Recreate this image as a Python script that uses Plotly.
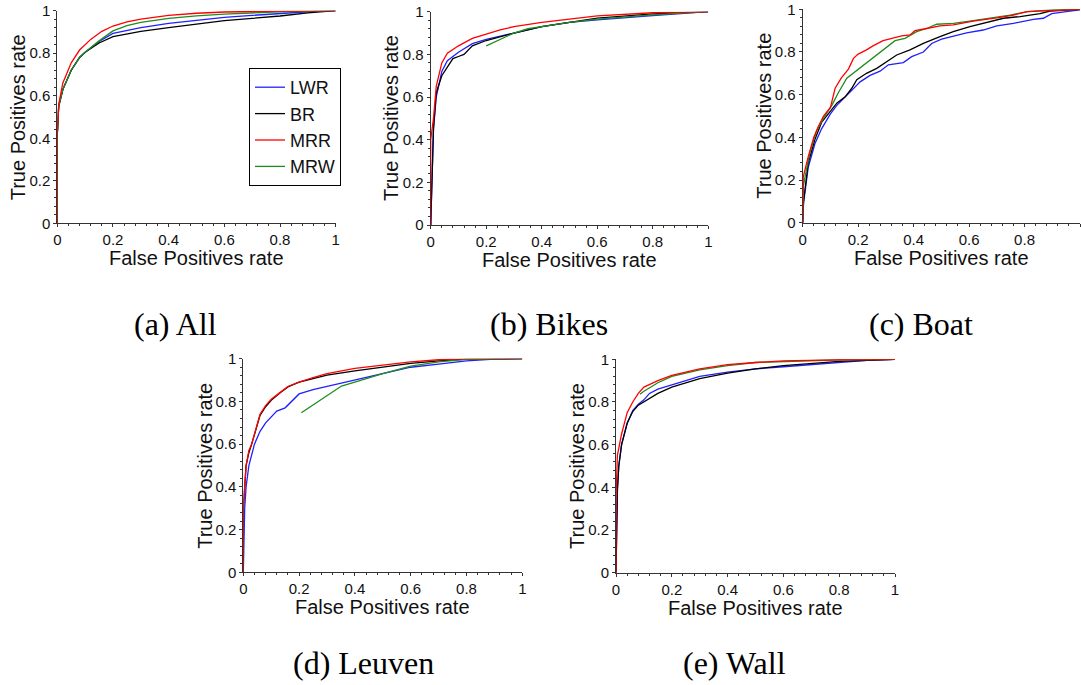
import plotly.graph_objects as go

# ---------------- data (FPR / TPR) ----------------
series_names = ["LWR", "BR", "MRR", "MRW"]
series_colors = ["#2020ff", "#000000", "#ff0000", "#1e8c1e"]
panel_captions = ["(a) All", "(b) Bikes", "(c) Boat", "(d) Leuven", "(e) Wall"]
tick_values = [0, 0.2, 0.4, 0.6, 0.8, 1]
tick_labels = ["0", "0.2", "0.4", "0.6", "0.8", "1"]

# (a) All
all_lwr_fpr = [0, 0, 0.005, 0.02, 0.05, 0.08, 0.1, 0.15, 0.2, 0.3, 0.4, 0.5, 0.6, 0.7, 0.8, 0.9, 1]
all_lwr_tpr = [0, 0.42, 0.55, 0.63, 0.72, 0.78, 0.805, 0.855, 0.893, 0.92, 0.94, 0.956, 0.969, 0.978, 0.987, 0.995, 1]
all_br_fpr = [0, 0, 0.005, 0.02, 0.05, 0.08, 0.1, 0.15, 0.2, 0.3, 0.4, 0.5, 0.6, 0.7, 0.8, 0.9, 1]
all_br_tpr = [0, 0.42, 0.55, 0.63, 0.72, 0.78, 0.805, 0.848, 0.878, 0.903, 0.92, 0.938, 0.953, 0.964, 0.975, 0.99, 1]
all_mrr_fpr = [0, 0, 0.005, 0.02, 0.05, 0.08, 0.12, 0.16, 0.2, 0.25, 0.3, 0.4, 0.5, 0.6, 0.8, 1]
all_mrr_tpr = [0, 0.42, 0.56, 0.66, 0.755, 0.815, 0.865, 0.903, 0.928, 0.947, 0.96, 0.978, 0.988, 0.994, 0.998, 1]
all_mrw_fpr = [0, 0, 0.005, 0.02, 0.05, 0.08, 0.1, 0.15, 0.2, 0.25, 0.3, 0.4, 0.5, 0.6, 0.8, 1]
all_mrw_tpr = [0, 0.42, 0.55, 0.63, 0.72, 0.78, 0.805, 0.858, 0.905, 0.93, 0.945, 0.964, 0.976, 0.984, 0.995, 1]

# (b) Bikes
bikes_lwr_fpr = [0, 0.005, 0.01, 0.02, 0.04, 0.06, 0.1, 0.15, 0.2, 0.3, 0.4, 0.5, 0.6, 0.8, 1]
bikes_lwr_tpr = [0, 0.18, 0.45, 0.6, 0.72, 0.77, 0.81, 0.85, 0.87, 0.9, 0.93, 0.95, 0.962, 0.982, 1]
bikes_br_fpr = [0, 0.005, 0.01, 0.02, 0.04, 0.06, 0.08, 0.1, 0.12, 0.15, 0.2, 0.3, 0.35, 0.4, 0.5, 0.6, 0.8, 1]
bikes_br_tpr = [0, 0.3, 0.45, 0.62, 0.7, 0.74, 0.78, 0.79, 0.8, 0.84, 0.865, 0.9, 0.915, 0.93, 0.95, 0.97, 0.99, 1]
bikes_mrr_fpr = [0, 0, 0.01, 0.02, 0.04, 0.06, 0.1, 0.15, 0.2, 0.25, 0.3, 0.4, 0.5, 0.6, 0.8, 1]
bikes_mrr_tpr = [0, 0.4, 0.5, 0.65, 0.76, 0.805, 0.84, 0.875, 0.895, 0.915, 0.93, 0.95, 0.965, 0.98, 0.995, 1]
bikes_mrw_fpr = [0.2, 0.3, 0.35, 0.4, 0.5, 0.6, 0.8, 1]
bikes_mrw_tpr = [0.84, 0.9, 0.92, 0.93, 0.95, 0.965, 0.985, 1]

# (c) Boat
boat_lwr_fpr = [0, 0.003, 0.02, 0.044, 0.068, 0.1, 0.123, 0.147, 0.177, 0.207, 0.243, 0.279, 0.309, 0.363,
                0.393, 0.435, 0.465, 0.501, 0.543, 0.591, 0.651, 0.7, 0.76, 0.832, 0.868, 0.898, 0.95, 1]
boat_lwr_tpr = [0, 0.09, 0.26, 0.37, 0.44, 0.51, 0.55, 0.58, 0.62, 0.66, 0.69, 0.71, 0.74, 0.75,
                0.778, 0.8, 0.84, 0.86, 0.875, 0.89, 0.903, 0.922, 0.934, 0.953, 0.958, 0.98, 0.989, 0.997]
boat_br_fpr = [0, 0.003, 0.02, 0.044, 0.068, 0.093, 0.123, 0.153, 0.177, 0.195, 0.23, 0.267, 0.303, 0.339,
               0.387, 0.435, 0.495, 0.543, 0.603, 0.663, 0.724, 0.784, 0.856, 0.892, 1]
boat_br_tpr = [0, 0.1, 0.28, 0.39, 0.47, 0.51, 0.56, 0.59, 0.63, 0.67, 0.7, 0.723, 0.755, 0.786,
               0.81, 0.84, 0.872, 0.895, 0.919, 0.9375, 0.958, 0.966, 0.98, 0.992, 1]
boat_mrr_fpr = [0, 0.002, 0.02, 0.04, 0.056, 0.075, 0.1, 0.117, 0.14, 0.165, 0.183, 0.2, 0.23, 0.255, 0.29,
                0.327, 0.357, 0.387, 0.405, 0.447, 0.495, 0.543, 0.615, 0.7, 0.76, 0.81, 0.88, 1]
boat_mrr_tpr = [0, 0.215, 0.31, 0.4, 0.45, 0.5, 0.54, 0.63, 0.68, 0.72, 0.77, 0.79, 0.81, 0.83, 0.853,
                0.864, 0.875, 0.88, 0.9, 0.91, 0.922, 0.927, 0.945, 0.96, 0.973, 0.989, 0.994, 1]
boat_mrw_fpr = [0, 0.002, 0.026, 0.05, 0.075, 0.105, 0.129, 0.159, 0.333, 0.369, 0.411, 0.447, 0.483,
                0.543, 0.615, 0.675, 0.748, 0.81, 0.9, 1]
boat_mrw_tpr = [0, 0.17, 0.33, 0.43, 0.49, 0.55, 0.61, 0.677, 0.853, 0.864, 0.895, 0.91, 0.93,
                0.934, 0.947, 0.958, 0.973, 0.989, 0.997, 1]

# (d) Leuven
leuven_lwr_fpr = [0, 0.005, 0.01, 0.02, 0.04, 0.06, 0.08, 0.1, 0.12, 0.15, 0.18, 0.2, 0.25, 0.3, 0.35, 0.4,
                  0.5, 0.6, 0.7, 0.8, 0.9, 1]
leuven_lwr_tpr = [0, 0.3, 0.4, 0.5, 0.6, 0.66, 0.7, 0.73, 0.755, 0.77, 0.81, 0.835, 0.855, 0.87, 0.885, 0.9,
                  0.93, 0.96, 0.975, 0.99, 0.998, 1]
leuven_br_fpr = [0, 0, 0.01, 0.02, 0.03, 0.05, 0.06, 0.08, 0.1, 0.13, 0.16, 0.2, 0.25, 0.3, 0.4, 0.5, 0.6,
                 0.7, 0.8, 1]
leuven_br_tpr = [0, 0.3, 0.5, 0.56, 0.6, 0.69, 0.735, 0.775, 0.805, 0.838, 0.868, 0.89, 0.908, 0.923, 0.943,
                 0.96, 0.978, 0.99, 0.998, 1]
leuven_mrr_fpr = [0, 0, 0.01, 0.02, 0.03, 0.05, 0.06, 0.08, 0.1, 0.13, 0.16, 0.2, 0.25, 0.3, 0.4, 0.5, 0.6,
                  0.7, 0.8, 1]
leuven_mrr_tpr = [0, 0.3, 0.5, 0.57, 0.6, 0.7, 0.74, 0.78, 0.81, 0.84, 0.87, 0.89, 0.912, 0.93, 0.955, 0.97,
                  0.985, 0.995, 1, 1]
leuven_mrw_fpr = [0.208, 0.352, 0.45, 0.5, 0.6, 0.7, 0.8, 1]
leuven_mrw_tpr = [0.747, 0.872, 0.91, 0.93, 0.965, 0.985, 0.997, 1]

# (e) Wall
wall_lwr_fpr = [0, 0.005, 0.01, 0.02, 0.04, 0.06, 0.08, 0.1, 0.12, 0.15, 0.2, 0.25, 0.3, 0.4, 0.5, 0.6, 0.7,
                0.8, 0.9, 1]
wall_lwr_tpr = [0, 0.4, 0.5, 0.6, 0.7, 0.76, 0.79, 0.81, 0.84, 0.86, 0.88, 0.9, 0.92, 0.94, 0.955, 0.965,
                0.975, 0.985, 0.995, 1]
wall_br_fpr = [0, 0.005, 0.01, 0.02, 0.04, 0.06, 0.08, 0.1, 0.15, 0.2, 0.3, 0.4, 0.5, 0.6, 0.7, 0.8, 1]
wall_br_tpr = [0, 0.38, 0.5, 0.6, 0.7, 0.755, 0.785, 0.8, 0.84, 0.87, 0.91, 0.935, 0.955, 0.97, 0.98, 0.99, 1]
wall_mrr_fpr = [0, 0, 0.005, 0.02, 0.04, 0.06, 0.08, 0.1, 0.15, 0.2, 0.3, 0.4, 0.5, 0.6, 0.8, 1]
wall_mrr_tpr = [0, 0.35, 0.55, 0.65, 0.75, 0.8, 0.84, 0.87, 0.9, 0.925, 0.955, 0.975, 0.985, 0.993, 0.998, 1]
wall_mrw_fpr = [0.086, 0.1, 0.15, 0.2, 0.3, 0.4, 0.5, 0.6, 0.8, 1]
wall_mrw_tpr = [0.836, 0.85, 0.89, 0.92, 0.95, 0.97, 0.985, 0.99, 0.998, 1]

panels = [
    [(all_lwr_fpr, all_lwr_tpr), (all_br_fpr, all_br_tpr), (all_mrr_fpr, all_mrr_tpr), (all_mrw_fpr, all_mrw_tpr)],
    [(bikes_lwr_fpr, bikes_lwr_tpr), (bikes_br_fpr, bikes_br_tpr), (bikes_mrr_fpr, bikes_mrr_tpr), (bikes_mrw_fpr, bikes_mrw_tpr)],
    [(boat_lwr_fpr, boat_lwr_tpr), (boat_br_fpr, boat_br_tpr), (boat_mrr_fpr, boat_mrr_tpr), (boat_mrw_fpr, boat_mrw_tpr)],
    [(leuven_lwr_fpr, leuven_lwr_tpr), (leuven_br_fpr, leuven_br_tpr), (leuven_mrr_fpr, leuven_mrr_tpr), (leuven_mrw_fpr, leuven_mrw_tpr)],
    [(wall_lwr_fpr, wall_lwr_tpr), (wall_br_fpr, wall_br_tpr), (wall_mrr_fpr, wall_mrr_tpr), (wall_mrw_fpr, wall_mrw_tpr)],
]

# ---------------- layout geometry (pixels) ----------------
W, H = 1081, 685
# (left, right, top, bottom) of each plot area in pixels
boxes = [
    (57.3, 335.7, 10.7, 223.3),
    (430.7, 708.3, 11.7, 225.0),
    (802.7, 1080.0, 9.3, 222.7),
    (243.3, 522.3, 358.7, 572.3),
    (616.0, 895.0, 359.3, 572.7),
]
caption_pos = [(175, 324), (549, 324), (921, 324), (363, 663), (734, 663)]

def px(x):
    return x / W

def py(y):
    return 1 - y / H

SANS = "Liberation Sans, Arial, sans-serif"
SERIF = "Liberation Serif, Times New Roman, serif"
AXC = "#333333"

fig = go.Figure()
draw_order = [0, 1, 3, 2]
for p, curves in enumerate(panels):
    xa = "x" if p == 0 else f"x{p+1}"
    ya = "y" if p == 0 else f"y{p+1}"
    for s in draw_order:
        xs, ys = curves[s]
        fig.add_trace(go.Scatter(
            x=xs, y=ys, mode="lines", name=series_names[s],
            line=dict(color=series_colors[s], width=1.3),
            xaxis=xa, yaxis=ya, showlegend=(p == 0), legendrank=s + 1,
            hoverinfo="skip",
        ))

annotations = []
for p, (l, r, t, b) in enumerate(boxes):
    sfx = "" if p == 0 else str(p + 1)
    common = dict(
        range=[0, 1], showline=True, linecolor=AXC, linewidth=1,
        ticks="outside", ticklen=3, tickcolor=AXC, tickwidth=1,
        tickvals=tick_values, ticktext=tick_labels,
        minor=dict(ticks="outside", ticklen=2, tickcolor=AXC, dtick=0.04, tick0=0),
        showgrid=False, zeroline=False, layer="below traces", fixedrange=True,
        automargin=False,
        tickfont=dict(family=SANS, size=15, color="#111111"),
    )
    fig.update_layout(**{
        "xaxis" + sfx: dict(domain=[px(l), px(r)], anchor="y" + sfx, **common),
        "yaxis" + sfx: dict(domain=[py(b), py(t)], anchor="x" + sfx, **common),
    })
    # axis titles
    annotations.append(dict(
        text="False Positives rate", xref="paper", yref="paper",
        x=px((l + r) / 2), y=py(b + 35), xanchor="center", yanchor="middle",
        showarrow=False, font=dict(family=SANS, size=20, color="#111111"),
    ))
    annotations.append(dict(
        text="True Positives rate", xref="paper", yref="paper",
        x=px(l - 39), y=py((t + b) / 2), xanchor="center", yanchor="middle",
        textangle=-90, showarrow=False, font=dict(family=SANS, size=20, color="#111111"),
    ))
    cx, cy = caption_pos[p]
    annotations.append(dict(
        text=panel_captions[p], xref="paper", yref="paper",
        x=px(cx), y=py(cy), xanchor="center", yanchor="middle",
        showarrow=False, font=dict(family=SERIF, size=32, color="#000000"),
    ))

fig.update_layout(
    width=W, height=H, autosize=False,
    margin=dict(l=0, r=0, t=0, b=0, pad=0, autoexpand=False),
    paper_bgcolor="white", plot_bgcolor="white",
    annotations=annotations,
    legend=dict(
        x=px(249), y=py(68), xanchor="left", yanchor="top",
        bordercolor="#000000", borderwidth=1, bgcolor="white",
        font=dict(family=SANS, size=18, color="#111111"),
        itemwidth=30, tracegroupgap=0,
    ),
)

fig.write_html(
    "out.html",
    config={"displayModeBar": False},
    post_script="document.body.style.margin='0px';document.body.style.overflow='hidden';",
)
